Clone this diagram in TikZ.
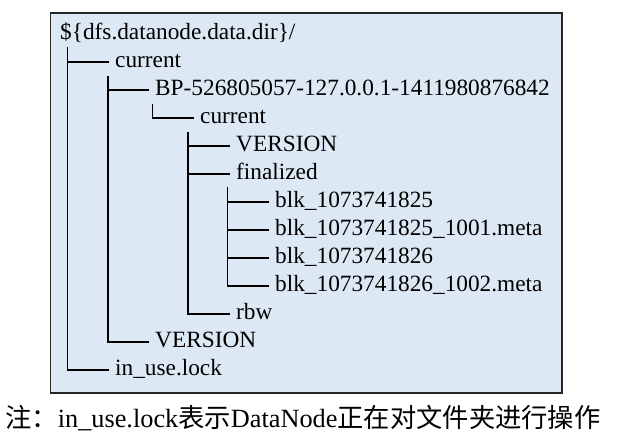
\documentclass[tikz,border=0pt]{standalone}
\usepackage{fontspec}
\setmainfont{Liberation Serif}
\newfontfamily\cjk{Noto Sans CJK SC}
\definecolor{boxblue}{RGB}{221,232,245}
\begin{document}
\begin{tikzpicture}[x=1pt,y=-1pt,
  item/.style={anchor=west, inner xsep=7pt, inner ysep=0pt, text height=16pt, text depth=5pt, font=\fontsize{23.3}{28}\selectfont},
  conn/.style={line width=1.8pt, line cap=rect},
  frame/.style={draw=black!85, line width=1.5pt, fill=boxblue}]
\useasboundingbox (0,0) rectangle (617,440);
\draw[frame] (50.5,13) rectangle (562,393);
% nodes
\node[item] (root) at (53,34) {\$\{dfs.datanode.data.dir\}/};
\node[item] (cur1) at (108,62) {current};
\node[item] (bp) at (148,90) {BP-526805057-127.0.0.1-1411980876842};
\node[item] (cur2) at (193,118) {current};
\node[item] (ver2) at (229,146) {VERSION};
\node[item] (fin) at (229,174) {finalized};
\node[item] (b1) at (268,202) {blk\_1073741825};
\node[item] (b2) at (268,230) {blk\_1073741825\_1001.meta};
\node[item] (b3) at (268,258) {blk\_1073741826};
\node[item] (b4) at (268,286) {blk\_1073741826\_1002.meta};
\node[item] (rbw) at (229,314) {rbw};
\node[item] (ver1) at (148,342) {VERSION};
\node[item] (lock) at (108,370) {in\_use.lock};
% trunk starts
\coordinate (t0) at (67.5,48);
\coordinate (t1) at (108,77);
\coordinate (t2) at (152.5,105);
\coordinate (t3) at (188,133);
\coordinate (t4) at (227.5,188);
% connectors
\draw[conn] (t0) |- (cur1.west);
\draw[conn] (t0) |- (lock.west);
\draw[conn] (t1) |- (bp.west);
\draw[conn] (t1) |- (ver1.west);
\draw[conn] (t2) |- (cur2.west);
\draw[conn] (t3) |- (ver2.west);
\draw[conn] (t3) |- (fin.west);
\draw[conn] (t3) |- (rbw.west);
\draw[conn] (t4) |- (b1.west);
\draw[conn] (t4) |- (b2.west);
\draw[conn] (t4) |- (b3.west);
\draw[conn] (t4) |- (b4.west);
% caption
\node[anchor=base west, inner sep=0pt, font=\fontsize{26.3}{30}\selectfont] (cap) at (5,427)
  {{\cjk 注：}in\_use.lock{\cjk 表示}DataNode{\cjk 正在对文件夹进行操作}};
\end{tikzpicture}
\end{document}
